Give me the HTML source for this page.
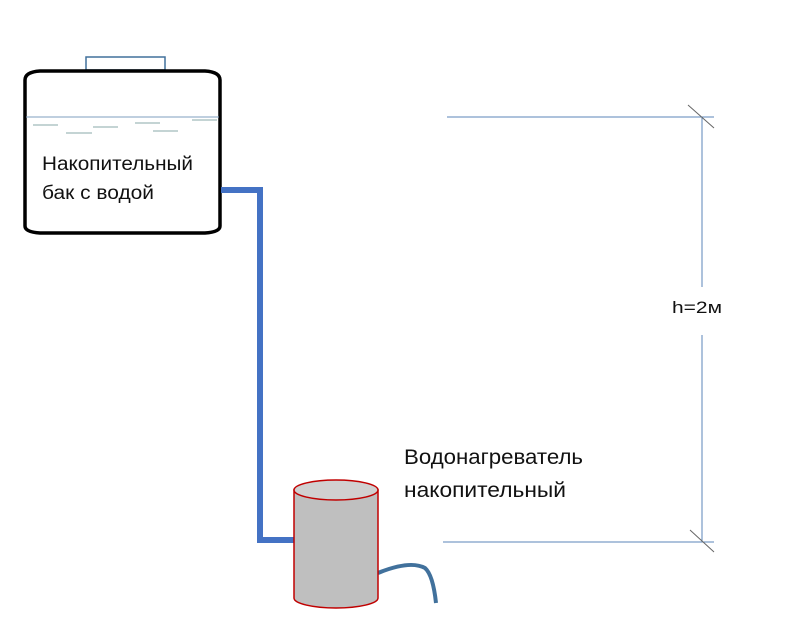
<!DOCTYPE html>
<html><head><meta charset="utf-8"><style>
body{margin:0;background:#fff}
svg{display:block}
text{font-family:"Liberation Sans",sans-serif;fill:#111}
</style></head><body>
<svg width="800" height="635" viewBox="0 0 800 635">
<rect x="86" y="57" width="79" height="13" fill="#fff" stroke="#41719c" stroke-width="1.5"/>
<path d="M25,80 Q25,72 40,71 L205,71 Q220,72 220,80 L220,226 Q220,232 205,233 L40,233 Q25,232 25,226 Z" fill="#fff" stroke="#000" stroke-width="3.5"/>
<line x1="26" y1="117" x2="219" y2="117" stroke="#7f9fbf" stroke-width="1"/>
<g stroke="#8aa" stroke-width="1">
<line x1="33" y1="125" x2="58" y2="125"/><line x1="66" y1="133" x2="92" y2="133"/>
<line x1="93" y1="127" x2="118" y2="127"/><line x1="135" y1="123" x2="160" y2="123"/>
<line x1="153" y1="131" x2="178" y2="131"/><line x1="192" y1="120" x2="217" y2="120"/>
</g>
<text x="42" y="170" font-size="19" textLength="151" lengthAdjust="spacingAndGlyphs">Накопительный</text>
<text x="42" y="199" font-size="19" textLength="112" lengthAdjust="spacingAndGlyphs">бак с водой</text>
<polyline points="221,190 260,190 260,540 294,540" fill="none" stroke="#4472c4" stroke-width="6"/>
<path d="M378,573 Q410,560 425,568 Q433,575 436,603" fill="none" stroke="#41719c" stroke-width="4"/>
<path d="M294,490 L294,598 A42,10 0 0 0 378,598 L378,490 Z" fill="#bfbfbf" stroke="#c00000" stroke-width="1.5"/>
<ellipse cx="336" cy="490" rx="42" ry="10" fill="#d0d0d0" stroke="#c00000" stroke-width="1.5"/>
<text x="404" y="464" font-size="21" textLength="179" lengthAdjust="spacingAndGlyphs">Водонагреватель</text>
<text x="404" y="497" font-size="21" textLength="162" lengthAdjust="spacingAndGlyphs">накопительный</text>
<g stroke="#5b86b8" stroke-width="1">
<line x1="447" y1="117" x2="714" y2="117"/>
<line x1="443" y1="542" x2="714" y2="542"/>
<line x1="702" y1="117" x2="702" y2="287"/>
<line x1="702" y1="335" x2="702" y2="542"/>
</g>
<g stroke="#666" stroke-width="1">
<line x1="688" y1="105" x2="714" y2="128"/>
<line x1="690" y1="530" x2="714" y2="552"/>
</g>
<text x="672" y="313" font-size="17" textLength="50" lengthAdjust="spacingAndGlyphs">h=2м</text>
</svg>
</body></html>
